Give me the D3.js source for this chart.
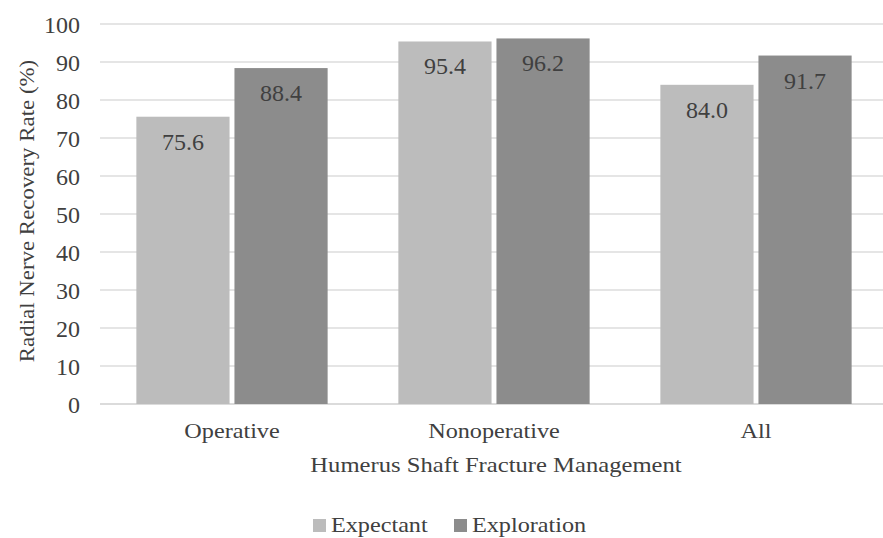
<!DOCTYPE html>
<html>
<head>
<meta charset="utf-8">
<script src="https://cdn.jsdelivr.net/npm/d3@7"></script>
<style>
  body { margin: 0; background: #fff; }
  text { font-family: "Liberation Serif", "Times New Roman", serif; fill: #404040; }
</style>
</head>
<body>
<script>
var w = 883;
var h = 538;

var categories = ["Operative", "Nonoperative", "All"];
var series = ["Expectant", "Exploration"];
var expectant = [75.6, 95.4, 84.0];
var exploration = [88.4, 96.2, 91.7];
var yTicks = [0, 10, 20, 30, 40, 50, 60, 70, 80, 90, 100];
var colors = ["#bcbcbc", "#8c8c8c"];

var plotLeft = 100, plotRight = 883, plotTop = 24, plotBottom = 404;
var stretch = 1.1; // text in the picture is a bit wider than the font

var svg = d3.select("body")
  .append("svg")
  .attr("width", w)
  .attr("height", h);

var y = d3.scaleLinear().domain([0, 100]).range([plotBottom, plotTop]);
var x0 = d3.scaleBand().domain(categories).range([101, 887]).paddingInner(0.27).paddingOuter(0.135);
var x1 = d3.scaleBand().domain(series).range([0, x0.bandwidth()]).paddingInner(0.05);

function place(x, yy, s) { return "translate(" + x + "," + yy + ") scale(" + (s || stretch) + ",1)"; }

// gridlines
svg.selectAll("line.grid")
  .data(yTicks)
  .enter()
  .append("line")
  .attr("x1", plotLeft)
  .attr("x2", plotRight)
  .attr("y1", function(d) { return y(d); })
  .attr("y2", function(d) { return y(d); })
  .attr("stroke", function(d) { return d === 0 ? "#cfcfcf" : "#dcdcdc"; })
  .attr("stroke-width", 1.5);

// y tick labels
svg.selectAll("text.ytick")
  .data(yTicks)
  .enter()
  .append("text")
  .text(function(d) { return d; })
  .attr("x", 80)
  .attr("y", function(d) { return y(d) + 8.5; })
  .attr("text-anchor", "end")
  .attr("font-size", "24px");

var rows = categories.map(function(c, i) {
  return { cat: c, values: [expectant[i], exploration[i]] };
});

var groups = svg.selectAll("g.group")
  .data(rows)
  .enter()
  .append("g")
  .attr("transform", function(d) { return "translate(" + x0(d.cat) + ",0)"; });

groups.selectAll("rect")
  .data(function(d) { return d.values.map(function(v, j) { return { s: series[j], v: v, j: j }; }); })
  .enter()
  .append("rect")
  .attr("x", function(d) { return x1(d.s); })
  .attr("y", function(d) { return y(d.v); })
  .attr("width", x1.bandwidth())
  .attr("height", function(d) { return plotBottom - y(d.v); })
  .attr("fill", function(d) { return colors[d.j]; });

groups.selectAll("text")
  .data(function(d) { return d.values.map(function(v, j) { return { s: series[j], v: v }; }); })
  .enter()
  .append("text")
  .text(function(d) { return d.v.toFixed(1); })
  .attr("x", function(d) { return x1(d.s) + x1.bandwidth() / 2; })
  .attr("y", function(d) { return y(d.v) + 33; })
  .attr("text-anchor", "middle")
  .attr("font-size", "24px");

// category labels
svg.selectAll("text.cat")
  .data(categories)
  .enter()
  .append("text")
  .text(function(d) { return d; })
  .attr("transform", function(d) { return place(x0(d) + x0.bandwidth() / 2, 438); })
  .attr("text-anchor", "middle")
  .attr("font-size", "22px");

// axis titles
svg.append("text")
  .text("Humerus Shaft Fracture Management")
  .attr("transform", place(496, 472, 1.12))
  .attr("text-anchor", "middle")
  .attr("font-size", "22px");

svg.append("text")
  .text("Radial Nerve Recovery Rate (%)")
  .attr("transform", "translate(34,211) rotate(-90) scale(1.09,1)")
  .attr("text-anchor", "middle")
  .attr("font-size", "21px");

// legend
var legendX = [313, 454];
var legend = svg.selectAll("g.legend")
  .data(series)
  .enter()
  .append("g")
  .attr("transform", function(d, i) { return "translate(" + legendX[i] + ",519)"; });

legend.append("rect")
  .attr("width", 13)
  .attr("height", 13)
  .attr("fill", function(d, i) { return colors[i]; });

legend.append("text")
  .text(function(d) { return d; })
  .attr("transform", place(18, 13))
  .attr("font-size", "22px");
</script>
</body>
</html>
